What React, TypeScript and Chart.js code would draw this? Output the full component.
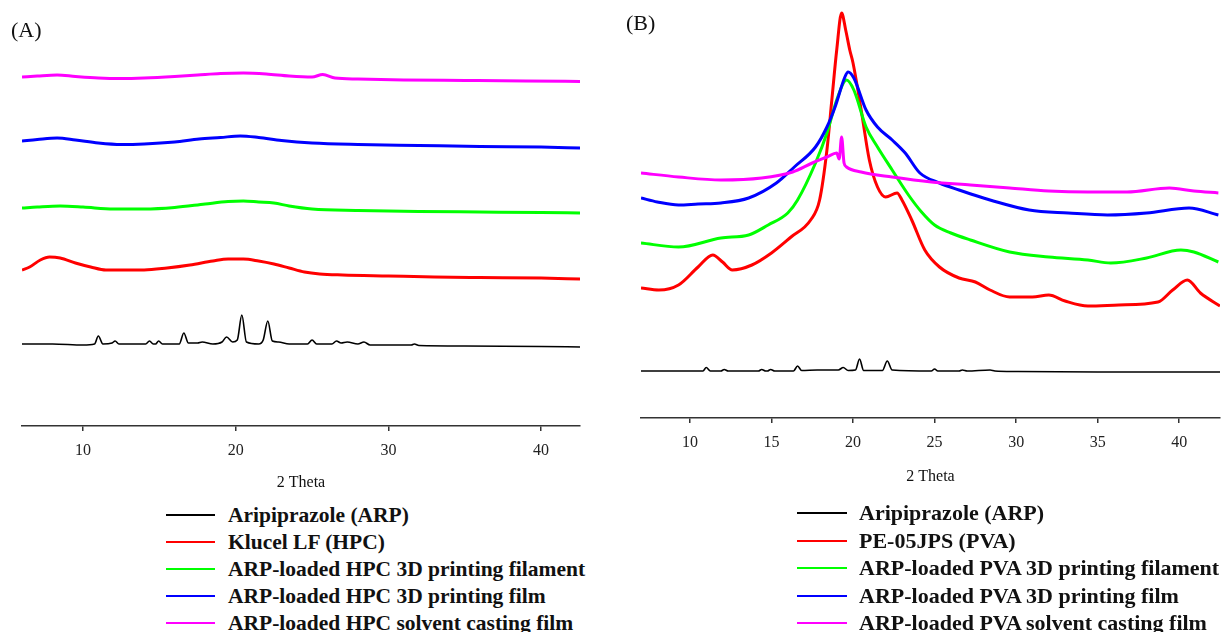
import React, { useEffect, useRef } from "react";
import { Chart, registerables } from "chart.js";

Chart.register(...registerables);

type Pt = [number, number];

// ---------- Data (2θ, relative intensity, stacked offsets as plotted) ----------
const SERIES_COLORS = ["#000000", "#ff0000", "#00ff00", "#0000ff", "#ff00ff"];

const A_LABELS = [
  "Aripiprazole (ARP)",
  "Klucel LF (HPC)",
  "ARP-loaded HPC 3D printing filament",
  "ARP-loaded HPC 3D printing film",
  "ARP-loaded HPC solvent casting film",
];
const B_LABELS = [
  "Aripiprazole (ARP)",
  "PE-05JPS (PVA)",
  "ARP-loaded PVA 3D printing filament",
  "ARP-loaded PVA 3D printing film",
  "ARP-loaded PVA solvent casting film",
];

const A_TICKS = [10, 20, 30, 40];
const B_TICKS = [10, 15, 20, 25, 30, 35, 40];
const X_TITLE = "2 Theta";

// Panel A
const A_ARP: Pt[] = [
  [6, 82], [8, 82], [10, 81], [10.75, 82], [11.0, 90], [11.3, 82], [11.9, 83], [12.1, 85], [12.35, 82],
  [13, 82], [14.1, 82], [14.35, 85], [14.6, 82], [14.75, 82], [14.95, 85], [15.2, 82], [16.3, 82],
  [16.6, 93], [16.9, 83], [17.5, 83], [17.8, 84], [18.5, 82], [19.1, 84], [19.4, 89], [19.8, 84],
  [20.1, 86], [20.4, 111], [20.7, 84], [21.5, 82], [21.8, 86], [22.1, 105], [22.4, 85], [22.8, 84],
  [23.5, 82], [24.7, 82], [25.0, 86], [25.3, 82], [26.3, 82], [26.6, 85], [26.9, 83], [27.3, 84],
  [28.0, 82], [28.4, 84], [28.8, 81], [31.5, 81], [31.7, 82], [32, 80.5], [35, 80], [40, 79.5], [42.55, 79],
];
const A_HPC: Pt[] = [
  [6, 156], [6.5, 159], [7.2, 166], [7.8, 169], [8.5, 168], [9.5, 163], [10.5, 159], [11.5, 156],
  [12.5, 156], [14, 156], [15.5, 158], [17, 161], [18.5, 165], [19.5, 167], [20.5, 167], [21.5, 165],
  [22.5, 162], [23.5, 158], [24.5, 154], [25.5, 152], [27, 151], [30, 150], [33, 149], [36, 148.5],
  [40, 148], [42.55, 147],
];
const A_FILAMENT: Pt[] = [
  [6, 218], [7, 219], [8.5, 220], [10, 219], [12, 217], [14, 217], [16, 218.5], [18, 222], [19.5, 224.5],
  [20.5, 225], [21.5, 224], [22.5, 223], [23.5, 220], [25, 217], [28, 215.5], [32, 214.5], [36, 214],
  [40, 213.5], [42.55, 213],
];
const A_FILM: Pt[] = [
  [6, 285], [7, 286.5], [8.3, 288], [9.5, 286], [11, 283], [12.5, 281.5], [14, 282], [16, 284],
  [17.6, 287], [19, 288.5], [20.3, 290], [21.5, 288.5], [23, 285.5], [25, 283], [28, 281.5],
  [32, 280.5], [36, 279.5], [40, 279], [42.55, 278],
];
const A_CAST: Pt[] = [
  [6, 349], [7, 350], [8.3, 351], [9.5, 349.5], [11, 348], [12.5, 347.5], [14, 348], [16, 349.5],
  [17.5, 351], [19, 352.5], [20.5, 353], [22, 352], [23.5, 350], [25, 349], [25.7, 351.5], [26.5, 348],
  [28, 347], [31, 346], [35, 345.5], [39, 345], [42.55, 344.5],
];

// Panel B
const B_ARP: Pt[] = [
  [7, 47], [10.8, 47], [11.0, 50.5], [11.25, 47], [11.9, 47], [12.1, 48.5], [12.35, 47], [14.2, 47],
  [14.4, 48.5], [14.65, 47], [14.75, 47], [14.95, 48.5], [15.2, 47], [16.35, 47], [16.6, 52], [16.85, 47.5],
  [17.8, 48], [19.1, 48], [19.4, 50.5], [19.7, 47.5], [20.15, 48], [20.4, 59], [20.65, 47.5],
  [21.8, 47.5], [22.1, 57], [22.4, 48], [24.8, 47], [25.0, 49], [25.2, 47], [26.5, 47], [26.7, 48],
  [27, 47], [28.4, 48], [28.7, 47], [30, 46.5], [35, 46], [42.5, 46],
];
const B_PVA: Pt[] = [
  [7.0, 130], [8.1, 128], [9.3, 133], [10.5, 151], [11.4, 163], [12.0, 156], [12.6, 148], [13.8, 153],
  [15.0, 165], [16.2, 181], [17.4, 198], [17.95, 218], [18.4, 268], [18.7, 318], [19.0, 368],
  [19.3, 405], [19.55, 388], [19.8, 368], [20.0, 355], [20.5, 308], [21.0, 258], [21.5, 231],
  [22.0, 221], [22.7, 225], [23.0, 218], [23.6, 198], [24.4, 168], [25.3, 151], [26.5, 140],
  [27.5, 136], [28.4, 128], [29.6, 121], [31.0, 121], [32.0, 123], [33.0, 117], [34.4, 112],
  [36.3, 113], [38.7, 116], [39.6, 128], [40.5, 138], [41.3, 125], [42.5, 112],
];
const B_FILAMENT: Pt[] = [
  [7.0, 175], [9.3, 171], [11.9, 180], [13.6, 183], [14.8, 193], [16.0, 205], [16.6, 218], [17.7, 255],
  [18.4, 285], [19.0, 318], [19.6, 338], [20.05, 328], [20.8, 291], [21.5, 271], [22.4, 248],
  [23.4, 223], [24.2, 206], [25.0, 193], [26.0, 185], [27.2, 178], [29.6, 166], [32.0, 161],
  [34.4, 158], [35.8, 155], [38.0, 160], [40.1, 168], [40.9, 166], [42.4, 156],
];
const B_FILM: Pt[] = [
  [7.0, 220], [8, 216], [9.3, 213], [10.5, 214], [11.9, 215], [13.6, 220], [15.3, 235], [16.4, 251],
  [17.7, 271], [18.4, 291], [18.9, 311], [19.5, 341], [19.7, 346], [20.05, 340], [20.8, 308],
  [21.5, 291], [22.4, 278], [23.2, 265], [24.1, 245], [25.3, 235], [26.5, 228], [28.0, 220],
  [28.4, 218], [30.8, 208], [33.2, 205], [35.6, 203], [38.0, 205], [40.6, 210], [42.4, 203],
];
const B_CAST: Pt[] = [
  [7.0, 245], [9.3, 241], [11.9, 238], [14.4, 240], [16.3, 246], [17.5, 255], [18.4, 261], [19.0, 265],
  [19.15, 259], [19.3, 281], [19.45, 255], [19.6, 251], [20.5, 246], [22.4, 241], [24.8, 236],
  [27.2, 233], [29.6, 230], [32.0, 227], [34.4, 226], [36.8, 226], [39.4, 230], [40.9, 227], [42.4, 225],
];

const A_SERIES = [A_ARP, A_HPC, A_FILAMENT, A_FILM, A_CAST];
const B_SERIES = [B_ARP, B_PVA, B_FILAMENT, B_FILM, B_CAST];

const SERIF = "'Liberation Serif', 'Times New Roman', serif";

type PanelProps = {
  series: Pt[][];
  labels: string[];
  ticks: number[];
  xMin: number;
  xMax: number;
  yMax: number;
  width: number;
  height: number;
  padLeft: number;
  padRight: number;
  padTop: number;
  scaleHeight: number;
  titlePad: number;
  left: number;
};

function XrdPanel(p: PanelProps) {
  const ref = useRef<HTMLCanvasElement | null>(null);
  useEffect(() => {
    if (!ref.current) return;
    const chart = new Chart(ref.current, {
      type: "line",
      data: {
        datasets: p.series.map((s, i) => ({
          label: p.labels[i],
          data: s.map(([x, y]) => ({ x, y })),
          borderColor: SERIES_COLORS[i],
          backgroundColor: SERIES_COLORS[i],
          borderWidth: i === 0 ? 1.6 : 3,
          pointRadius: 0,
          fill: false,
          cubicInterpolationMode: "monotone",
          borderJoinStyle: "round",
          order: 10 - i,
        })),
      },
      options: {
        responsive: false,
        animation: false,
        events: [],
        layout: { padding: { left: p.padLeft, right: p.padRight, top: p.padTop, bottom: 0 } },
        plugins: { legend: { display: false }, tooltip: { enabled: false } },
        scales: {
          x: {
            type: "linear",
            min: p.xMin,
            max: p.xMax,
            afterBuildTicks: (axis: any) => {
              axis.ticks = p.ticks.map((v) => ({ value: v }));
            },
            afterFit: (axis: any) => {
              axis.height = p.scaleHeight;
            },
            grid: { drawOnChartArea: false, drawTicks: true, tickLength: 5, color: "#333", lineWidth: 1.5 },
            border: { display: true, color: "#333", width: 1.5 },
            ticks: {
              font: { family: SERIF, size: 16 },
              color: "#222",
              padding: 10,
              maxRotation: 0,
              autoSkip: false,
              callback: (v: any) => String(v),
            },
            title: {
              display: true,
              text: X_TITLE,
              font: { family: SERIF, size: 16 },
              color: "#111",
              padding: { top: 0, bottom: p.titlePad },
            },
          },
          y: { display: false, min: 0, max: p.yMax },
        },
      },
    } as any);
    return () => chart.destroy();
  }, []);
  return (
    <canvas
      ref={ref}
      width={p.width}
      height={p.height}
      style={{ position: "absolute", left: p.left, top: 0, width: p.width, height: p.height }}
    />
  );
}

function Legend(props: {
  labels: string[];
  lineLeft: number;
  lineWidth: number;
  textLeft: number;
  top: number;
  step: number;
  fontSize: number;
}) {
  return (
    <>
      {props.labels.map((l, i) => {
        const cy = props.top + i * props.step;
        return (
          <React.Fragment key={i}>
            <div
              style={{
                position: "absolute",
                left: props.lineLeft,
                top: cy - 1,
                width: props.lineWidth,
                height: 2,
                background: SERIES_COLORS[i],
              }}
            />
            <div
              style={{
                position: "absolute",
                left: props.textLeft,
                top: cy - 14,
                height: 28,
                lineHeight: "28px",
                fontFamily: SERIF,
                fontWeight: "bold",
                fontSize: props.fontSize,
                color: "#111",
                whiteSpace: "nowrap",
              }}
            >
              {l}
            </div>
          </React.Fragment>
        );
      })}
    </>
  );
}

export default function App() {
  return (
    <div
      style={{
        position: "absolute",
        left: 0,
        top: 0,
        width: 1231,
        height: 632,
        overflow: "hidden",
        background: "#fff",
      }}
    >
      <XrdPanel
        series={A_SERIES}
        labels={A_LABELS}
        ticks={A_TICKS}
        xMin={6}
        xMax={42.55}
        yMax={400}
        width={600}
        height={500}
        padLeft={22}
        padRight={20}
        padTop={26}
        scaleHeight={74}
        titlePad={8}
        left={0}
      />
      <XrdPanel
        series={B_SERIES}
        labels={B_LABELS}
        ticks={B_TICKS}
        xMin={7}
        xMax={42.5}
        yMax={414}
        width={611}
        height={500}
        padLeft={21}
        padRight={11}
        padTop={4}
        scaleHeight={82}
        titlePad={14}
        left={620}
      />
      <div style={{ position: "absolute", left: 11, top: 17, fontFamily: SERIF, fontSize: 22, lineHeight: "26px", color: "#111" }}>
        (A)
      </div>
      <div style={{ position: "absolute", left: 626, top: 10, fontFamily: SERIF, fontSize: 22, lineHeight: "26px", color: "#111" }}>
        (B)
      </div>
      <Legend labels={A_LABELS} lineLeft={166} lineWidth={49} textLeft={228} top={515} step={27} fontSize={21.5} />
      <Legend labels={B_LABELS} lineLeft={797} lineWidth={50} textLeft={859} top={513} step={27.5} fontSize={22} />
    </div>
  );
}
